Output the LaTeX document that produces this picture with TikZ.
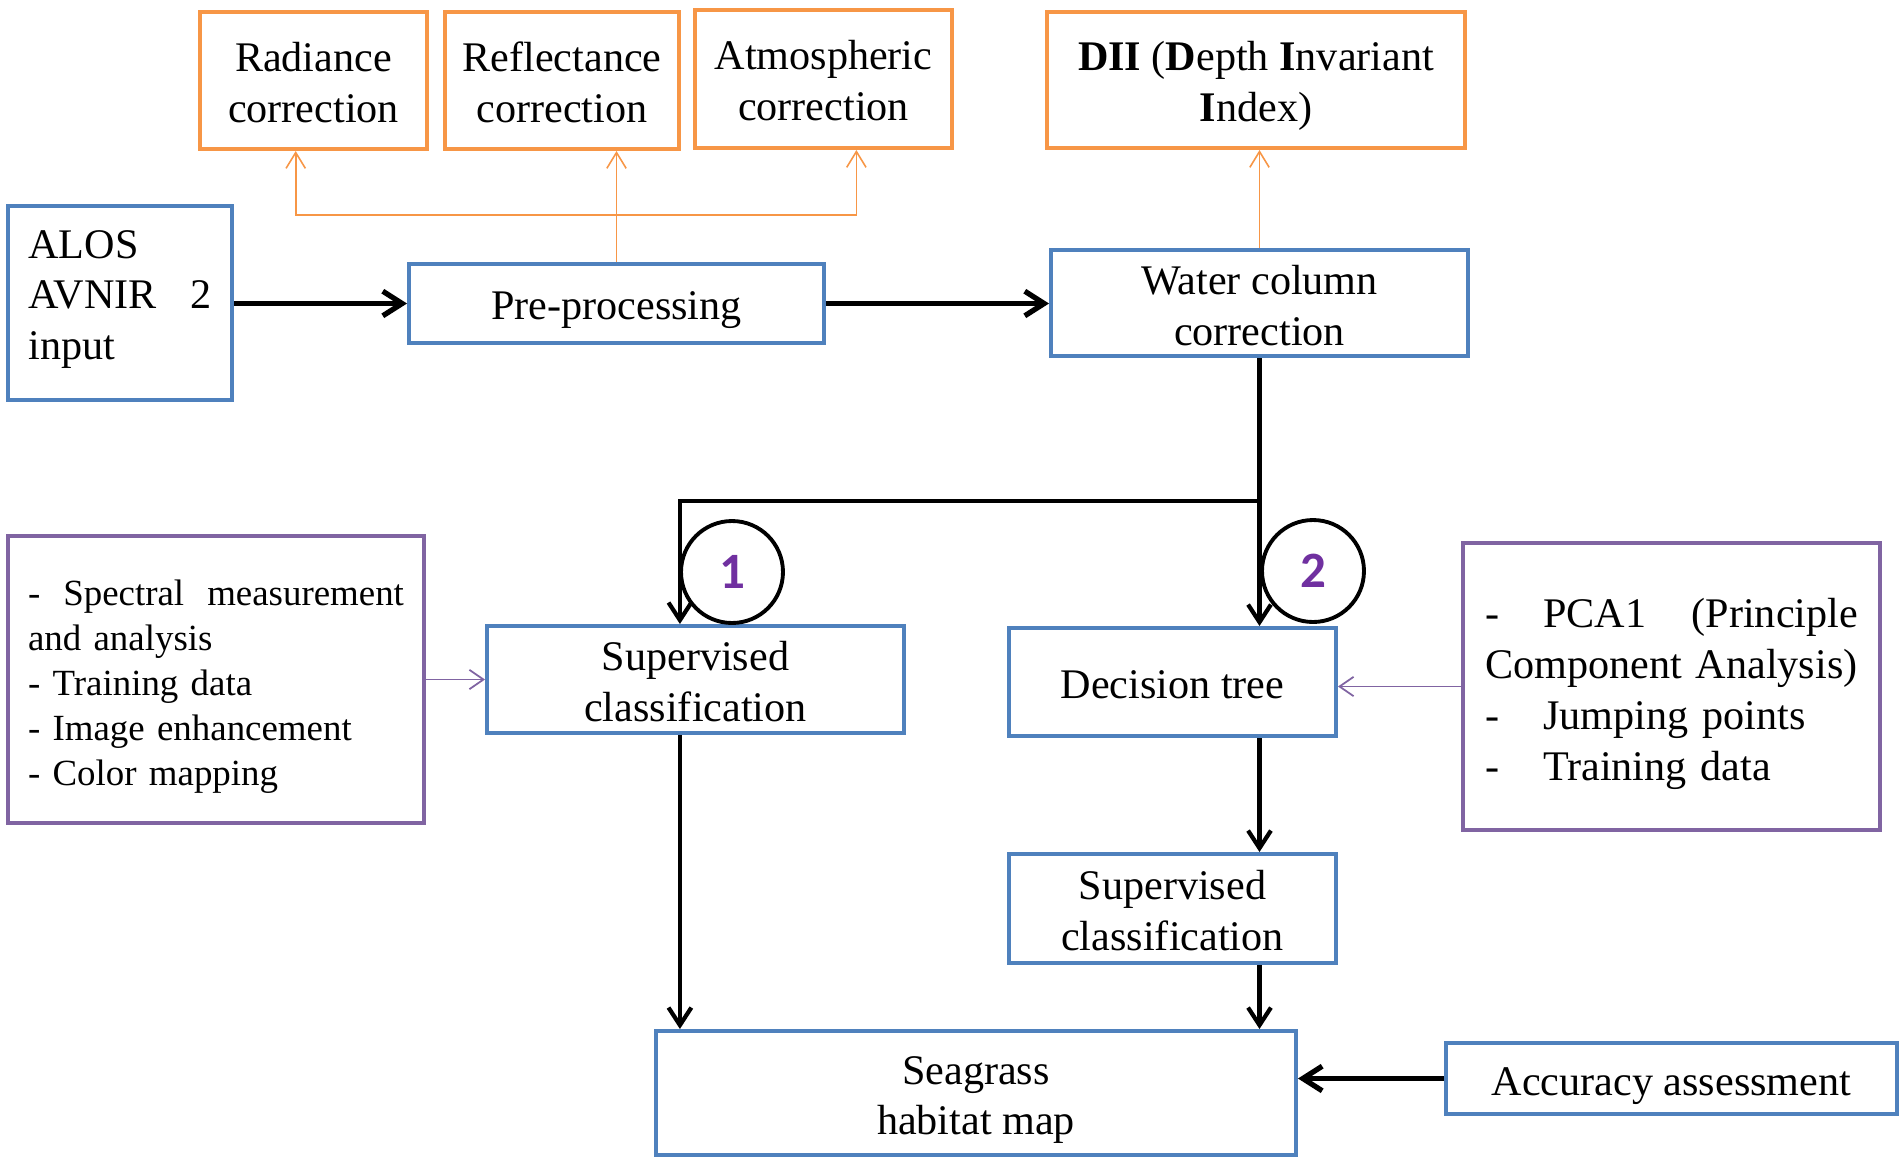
\documentclass[tikz,border=0pt]{standalone}
\usepackage{fontspec}
\setmainfont{Liberation Serif}
\newfontfamily\numfont{Carlito}
\usetikzlibrary{arrows.meta,calc}
\definecolor{boxblue}{HTML}{4F81BD}
\definecolor{boxorange}{HTML}{F79646}
\definecolor{boxpurple}{HTML}{8064A2}
\definecolor{numpurple}{HTML}{7030A0}
\begin{document}
\begin{tikzpicture}[x=0.02cm,y=-0.02cm,
 base/.style={draw,line width=2.3pt,fill=white,inner sep=0pt},
 bluebox/.style={base,draw=boxblue},
 orangebox/.style={base,draw=boxorange},
 purplebox/.style={base,draw=boxpurple},
 txt/.style={inner sep=0pt,font=\fontsize{24}{29}\selectfont,align=center},
 blk/.style={line width=2.4pt,-{Straight Barb[length=10pt,width=13pt]}},
 blkthick/.style={line width=3pt,-{Straight Barb[length=11pt,width=14pt]}},
 oarr/.style={draw=boxorange,line width=0.9pt,-{Straight Barb[length=9pt,width=11pt]}},
 parr/.style={draw=boxpurple,line width=1pt,-{Straight Barb[length=8pt,width=11pt]}},
 numcirc/.style={circle,draw=black,line width=2.2pt,minimum size=2.04cm,inner sep=0pt,text=numpurple,font=\numfont\bfseries\fontsize{29}{30}\selectfont}
]
\useasboundingbox (0,0) rectangle (1901,1161);

% top orange boxes
\node[orangebox,minimum width=4.54cm,minimum height=2.74cm] (rad) at (313.5,80.5) {};
\node[txt] (rad-t) at ([yshift=-0.04cm]rad.center) {Radiance\\correction};
\node[orangebox,minimum width=4.68cm,minimum height=2.74cm] (refl) at (562,80.5) {};
\node[txt] (refl-t) at ([yshift=-0.04cm]refl.center) {Reflectance\\correction};
\node[orangebox,minimum width=5.14cm,minimum height=2.76cm] (atm) at (823.5,79) {};
\node[txt] (atm-t) at ([yshift=-0.04cm]atm.center) {Atmospheric\\correction};
\node[orangebox,minimum width=8.36cm,minimum height=2.72cm] (dii) at (1256,80) {};
\node[txt] (dii-t) at ([yshift=-0.12cm]dii.center) {\textbf{DII} (\textbf{D}epth \textbf{I}nvariant\\\textbf{I}ndex)};

% blue process boxes
\node[bluebox,minimum width=4.48cm,minimum height=3.88cm] (alos) at (120,303) {};
\node[txt,text width=3.66cm,align=left] (alos-t) at ([yshift=0.07cm]alos.center) {ALOS\\AVNIR\hfill 2\\input};
\node[bluebox,minimum width=8.30cm,minimum height=1.58cm] (pre) at (616.5,303.5) {};
\node[txt] (pre-t) at ([yshift=-0.14cm]pre.center) {Pre-processing};
\node[bluebox,minimum width=8.34cm,minimum height=2.12cm] (wcc) at (1259.5,303) {};
\node[txt] (wcc-t) at ([yshift=-0.05cm]wcc.center) {Water column\\correction};
\node[bluebox,minimum width=8.34cm,minimum height=2.14cm] (sc1) at (695.5,679.5) {};
\node[txt] (sc1-t) at ([yshift=-0.05cm]sc1.center) {Supervised\\classification};
\node[bluebox,minimum width=6.54cm,minimum height=2.16cm] (dt) at (1172.5,682) {};
\node[txt] (dt-t) at ([yshift=-0.05cm]dt.center) {Decision tree};
\node[bluebox,minimum width=6.54cm,minimum height=2.18cm] (sc2) at (1172.5,908.5) {};
\node[txt] (sc2-t) at ([yshift=-0.05cm]sc2.center) {Supervised\\classification};
\node[bluebox,minimum width=12.8cm,minimum height=2.48cm] (sea) at (976,1093) {};
\node[txt] (sea-t) at ([yshift=-0.14cm]sea.center) {Seagrass\\habitat map};
\node[bluebox,minimum width=9.02cm,minimum height=1.42cm] (acc) at (1671.5,1078.5) {};
\node[txt] (acc-t) at ([yshift=-0.16cm]acc.center) {Accuracy assessment};

% purple info boxes
\node[purplebox,minimum width=8.32cm,minimum height=5.74cm] (lp) at (216,679.5) {};
\node[txt,text width=7.52cm,align=left,font=\fontsize{21}{25.6}\selectfont] (lp-t) at ([yshift=-0.14cm]lp.center)
 {-\hfill Spectral\hfill measurement\\and analysis\\- Training data\\- Image enhancement\\- Color mapping};
\node[purplebox,minimum width=8.34cm,minimum height=5.74cm] (rp) at (1671.5,686.5) {};
\node[txt,text width=7.46cm,align=left] (rp-t) at ([yshift=-0.14cm]rp.center)
 {\makebox[1.16cm][l]{-}PCA1\hfill(Principle\\Component Analysis)\\\makebox[1.16cm][l]{-}Jumping points\\\makebox[1.16cm][l]{-}Training data};

% helper coordinates
\coordinate (olevel) at (0,215);
\coordinate (blevel) at (0,501);
\coordinate (ra) at ($(rad.south west)!0.423!(rad.south east)$);
\coordinate (aa) at ($(atm.south west)!0.626!(atm.south east)$);
\coordinate (split) at (wcc.south |- blevel);
\coordinate (c1) at ($(sc1.north west)!0.463!(sc1.north east)$);

% orange connectors
\draw[oarr] (pre.north |- olevel) -| (ra);
\draw[oarr] (pre.north |- olevel) -| (aa);
\draw[oarr] (pre.north) -- (pre.north |- refl.south);
\draw[oarr] (wcc.north) -- (wcc.north |- dii.south);

% black connectors
\draw[blkthick] (alos.east |- pre.west) -- (pre.west);
\draw[blkthick] (pre.east) -- (pre.east -| wcc.west);
\draw[blk] (wcc.south) -- (split) -| (c1);
\draw[blk] (split) -- (split |- dt.north);
\draw[blk] (c1 |- sc1.south) -- (c1 |- sea.north);
\draw[blk] (split |- dt.south) -- (split |- sc2.north);
\draw[blk] (split |- sc2.south) -- (split |- sea.north);
\draw[blkthick] (acc.west) -- (acc.west -| sea.east);

% purple connectors
\draw[parr] (lp.east) -- (lp.east -| sc1.west);
\draw[parr] (rp.west) -- (rp.west -| dt.east);

% numbered circles
\node[numcirc] (n1) at (732,572) {1};
\node[numcirc] (n2) at (1313,571) {2};
\end{tikzpicture}
\end{document}
